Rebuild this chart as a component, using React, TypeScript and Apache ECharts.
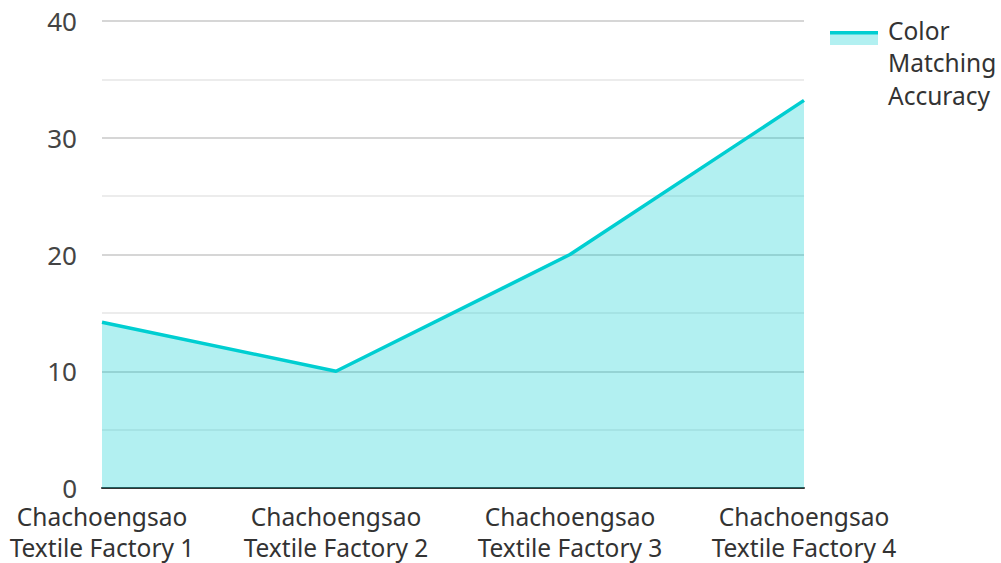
import React, { useEffect, useRef } from "react";
import * as echarts from "echarts";

const categories = [
  "Chachoengsao\nTextile Factory 1",
  "Chachoengsao\nTextile Factory 2",
  "Chachoengsao\nTextile Factory 3",
  "Chachoengsao\nTextile Factory 4",
];
const seriesName = "Color Matching Accuracy";
const values = [14.2, 10, 20, 33.2];
const yTicks = { min: 0, max: 40, interval: 10 };

const LINE = "#00CED1";
const FONT = "Noto Sans";

export default function App() {
  const ref = useRef<HTMLDivElement>(null);
  useEffect(() => {
    if (!ref.current) return;
    const chart = echarts.init(ref.current, null, { renderer: "svg" });
    chart.setOption({
      animation: false,
      textStyle: { fontFamily: FONT },
      grid: { left: 102, right: 197, top: 21, bottom: 75, containLabel: false },
      legend: {
        show: true,
        left: 828,
        top: 9,
        orient: "vertical",
        icon: "rect",
        itemWidth: 50,
        itemHeight: 14,
        itemGap: 10,
        itemStyle: { color: "rgba(0,0,0,0)", borderWidth: 0 },
        lineStyle: { width: 0 },
        formatter: () => "Color\nMatching\nAccuracy",
        textStyle: { fontSize: 24.5, color: "#333", lineHeight: 32.5, fontFamily: FONT },
        data: [seriesName],
      },
      graphic: [
        { type: "rect", left: 830, top: 34, shape: { width: 48, height: 11 }, style: { fill: LINE, opacity: 0.3 } },
        { type: "rect", left: 830, top: 31, shape: { width: 48, height: 3.5 }, style: { fill: LINE } },
      ],
      xAxis: {
        type: "category",
        data: categories,
        boundaryGap: false,
        axisLine: { show: true, lineStyle: { color: "#333", width: 2 } },
        axisTick: { show: false },
        axisLabel: { interval: 0, fontSize: 24.5, color: "#333", lineHeight: 31, margin: 13, fontFamily: FONT },
        splitLine: { show: false },
      },
      yAxis: {
        type: "value",
        min: yTicks.min,
        max: yTicks.max,
        interval: yTicks.interval,
        axisLine: { show: false },
        axisTick: { show: false },
        axisLabel: { fontSize: 26, color: "#444", margin: 25, fontFamily: FONT },
        splitLine: { show: true, lineStyle: { color: "#c8c8c8", width: 1.5 } },
        minorTick: { show: false, splitNumber: 2 },
        minorSplitLine: { show: true, lineStyle: { color: "#e6e6e6", width: 1.5 } },
      },
      series: [
        {
          name: seriesName,
          type: "line",
          data: values,
          symbol: "none",
          showSymbol: false,
          lineStyle: { color: LINE, width: 3.5 },
          itemStyle: { color: LINE },
          areaStyle: { color: LINE, opacity: 0.3 },
        },
      ],
    });
    return () => chart.dispose();
  }, []);
  return <div ref={ref} style={{ width: 1001, height: 563, position: "absolute", left: 0, top: 0 }} />;
}
